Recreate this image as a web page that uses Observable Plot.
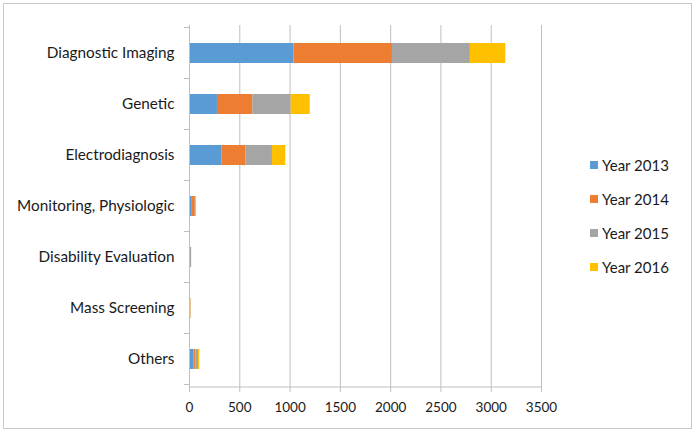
<!DOCTYPE html>
<html><head><meta charset="utf-8">
<script src="https://cdn.jsdelivr.net/npm/d3@7"></script>
<script src="https://cdn.jsdelivr.net/npm/@observablehq/plot@0.6"></script>
<style>
body{margin:0;background:#fff;}
#wrap{position:relative;width:695px;height:432px;font-family:Lato,"Open Sans",sans-serif;background:#fff;}
#chart{position:absolute;left:0;top:0;}
#border{position:absolute;left:3px;top:3px;width:687px;height:424px;border:1px solid #c8c8c8;pointer-events:none;}
#legend{position:absolute;left:590px;top:148px;}
.item{display:flex;align-items:center;height:34px;font-size:15px;color:#1a1a1a;}
.sw{width:8px;height:8px;margin-right:4px;}
</style></head><body>
<div id="wrap"><div id="chart"></div><div id="border"></div><div id="legend"></div></div>
<script>
const categories = ["Diagnostic Imaging", "Genetic", "Electrodiagnosis", "Monitoring, Physiologic", "Disability Evaluation", "Mass Screening", "Others"];
const years = ["Year 2013", "Year 2014", "Year 2015", "Year 2016"];
const year2013 = [1040, 278, 321, 28, 6, 3, 45];
const year2014 = [978, 352, 239, 30, 4, 10, 20];
const year2015 = [775, 381, 265, 8, 10, 3, 25];
const year2016 = [352, 189, 132, 4, 2, 2, 12];
const xTicks = [0, 500, 1000, 1500, 2000, 2500, 3000, 3500];
const colors = ["#5B9BD5", "#ED7D31", "#A5A5A5", "#FFC000"];

const series = [year2013, year2014, year2015, year2016];
const data = [];
categories.forEach((c, i) => {
  years.forEach((y, j) => data.push({category: c, year: y, value: series[j][i]}));
});

const lineColor = "#bfbfbf";

const chart = Plot.plot({
  width: 695,
  height: 432,
  marginLeft: 189,
  marginRight: 154,
  marginTop: 25,
  marginBottom: 45,
  style: {fontFamily: "Lato, 'Open Sans', sans-serif", fontSize: "13px", color: "#1a1a1a", background: "transparent"},
  x: {domain: [0, 3500], ticks: xTicks, label: null},
  y: {domain: categories, paddingInner: 0.6, paddingOuter: 0.3, label: null},
  color: {domain: years, range: colors},
  marks: [
    Plot.gridX(xTicks, {stroke: lineColor, strokeOpacity: 1}),
    Plot.barX(data, Plot.stackX({x: "value", y: "category", fill: "year", order: years})),
    Plot.ruleX([0], {stroke: lineColor, strokeOpacity: 1}),
    Plot.axisX({ticks: xTicks, tickSize: 5, tickPadding: 10, stroke: lineColor, fontSize: 13.5, tickFormat: d => String(d)}),
    Plot.axisY({tickSize: 0, tickPadding: 15, fontSize: 15.3})
  ]
});

document.getElementById("chart").appendChild(chart);

// axis line at bottom and category separator ticks, from the plot's own scales
const xs = chart.scale("x");
const ys = chart.scale("y");
const svg = d3.select(chart);
const yBottom = ys.range[1];
const x0 = xs.apply(0), x1 = xs.apply(3500);
svg.append("line").attr("x1", x0).attr("x2", x1).attr("y1", yBottom).attr("y2", yBottom)
  .attr("stroke", lineColor);
const half = (ys.step - ys.bandwidth) / 2;
const bounds = categories.map(c => ys.apply(c) - half);
bounds.push(ys.apply(categories[categories.length - 1]) + ys.bandwidth + half);
bounds.forEach(b => {
  svg.append("line").attr("x1", x0 - 5).attr("x2", x0).attr("y1", b).attr("y2", b).attr("stroke", lineColor);
});

const legend = d3.select("#legend");
years.forEach((y, i) => {
  const it = legend.append("div").attr("class", "item");
  it.append("div").attr("class", "sw").style("background", colors[i]);
  it.append("span").text(y);
});
</script>
</body></html>
